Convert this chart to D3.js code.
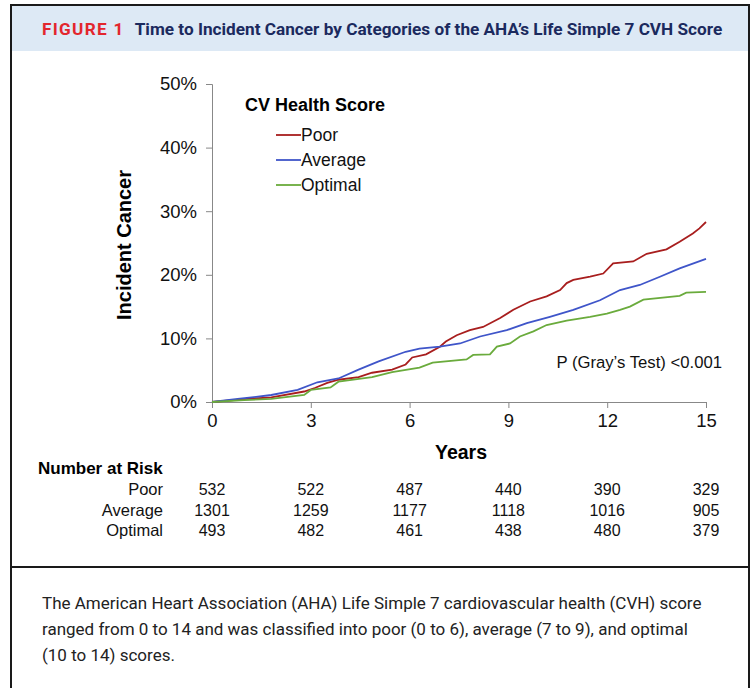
<!DOCTYPE html>
<html>
<head>
<meta charset="utf-8">
<script src="https://cdn.jsdelivr.net/npm/d3@7"></script>
<style>
  body { margin: 0; background: #fff; }
  svg { display: block; }
</style>
</head>
<body>
<svg id="chart" width="753" height="688"></svg>
<script>
// series: [years, cumulative incidence %]
var poor = [[0,0],[1.08,0.48],[1.8,0.74],[2.8,1.65],[3.12,2.2],[3.5,3],[3.84,3.5],[4.45,3.9],[4.86,4.6],
  [5.47,5.1],[5.88,5.9],[6.08,7],[6.5,7.5],[6.92,8.7],[7.1,9.5],[7.43,10.5],[7.83,11.3],[8.23,11.8],
  [8.75,13.2],[9.15,14.5],[9.66,15.8],[10.16,16.6],[10.57,17.6],[10.77,18.7],[10.97,19.2],[11.48,19.7],
  [11.88,20.2],[12.18,21.8],[12.79,22.1],[13.2,23.3],[13.8,24],[14.2,25.2],[14.6,26.5],[14.8,27.3],[15,28.3]];
var average = [[0,0],[0.78,0.48],[1.8,1.1],[2.6,1.9],[3.2,3.1],[3.84,3.7],[4.45,5.1],[5.06,6.4],[5.88,7.9],
  [6.3,8.4],[6.92,8.7],[7.53,9.2],[8.14,10.3],[8.95,11.3],[9.56,12.4],[10.26,13.4],[10.97,14.5],
  [11.78,16],[12.39,17.6],[12.99,18.4],[13.6,19.7],[14.2,21],[15,22.5]];
var optimal = [[0,0],[0.98,0.3],[1.8,0.5],[2.8,1.1],[3.0,1.9],[3.6,2.3],[3.84,3.2],[4.86,3.9],[5.47,4.7],
  [6.3,5.4],[6.7,6.2],[7.73,6.7],[7.93,7.4],[8.44,7.5],[8.65,8.7],[9.05,9.2],[9.35,10.3],[9.76,11.1],
  [10.16,12.1],[10.77,12.8],[11.48,13.4],[11.99,13.9],[12.39,14.5],[12.69,15],[13.1,16.1],[14.2,16.7],
  [14.4,17.2],[15,17.3]];

var groups = ["Poor", "Average", "Optimal"];
var colors = ["#a81e1e", "#3f55c9", "#6aab3c"];
var xTicks = [0, 3, 6, 9, 12, 15];
var yTicks = [0, 10, 20, 30, 40, 50];
var atRisk = [
  [532, 522, 487, 440, 390, 329],
  [1301, 1259, 1177, 1118, 1016, 905],
  [493, 482, 461, 438, 480, 379]
];
var captionLines = [
  "The American Heart Association (AHA) Life Simple 7 cardiovascular health (CVH) score",
  "ranged from 0 to 14 and was classified into poor (0 to 6), average (7 to 9), and optimal",
  "(10 to 14) scores."
];

var svg = d3.select("#chart");
var arial = "'Liberation Sans', Arial, sans-serif";

// frame + header band
svg.append("rect").attr("x", 11).attr("y", 5).attr("width", 738).attr("height", 46)
  .attr("fill", "#dde9f5");
svg.append("rect").attr("x", 11).attr("y", 5).attr("width", 738).attr("height", 700)
  .attr("fill", "none").attr("stroke", "#1a1a1a").attr("stroke-width", 2);
svg.append("line").attr("x1", 11).attr("x2", 749).attr("y1", 567).attr("y2", 567)
  .attr("stroke", "#1a1a1a").attr("stroke-width", 2);

var title = svg.append("text").attr("x", 42).attr("y", 35)
  .style("font-family", "Roboto, 'Noto Sans', sans-serif").style("font-size", "17.2px")
  .style("font-weight", "bold");
title.append("tspan").attr("fill", "#e3262d").style("letter-spacing", "1.3px").text("FIGURE 1");
title.append("tspan").attr("dx", 10).attr("fill", "#1b2a5e")
  .text("Time to Incident Cancer by Categories of the AHA\u2019s Life Simple 7 CVH Score");

// scales
var x = d3.scaleLinear().domain([0, 15]).range([212, 706]);
var y = d3.scaleLinear().domain([0, 50]).range([402, 84]);

var yAxis = svg.append("g").attr("transform", "translate(212,0)")
  .call(d3.axisLeft(y).tickValues(yTicks).tickSize(6).tickPadding(9).tickFormat(function(d) { return d + "%"; }));
var xAxis = svg.append("g").attr("transform", "translate(0,402)")
  .call(d3.axisBottom(x).tickValues(xTicks).tickSize(6).tickPadding(6));
[xAxis, yAxis].forEach(function(a) {
  a.select(".domain").attr("stroke", "#888");
  a.selectAll(".tick line").attr("stroke", "#888");
  a.selectAll("text").style("font-family", arial).style("font-size", "18.5px").attr("fill", "#111");
});

svg.append("text").attr("transform", "translate(131,245) rotate(-90)")
  .attr("text-anchor", "middle").style("font-family", arial).style("font-size", "20px")
  .style("font-weight", "bold").text("Incident Cancer");
svg.append("text").attr("x", 461).attr("y", 459).attr("text-anchor", "middle")
  .style("font-family", arial).style("font-size", "19.5px").style("font-weight", "bold").text("Years");

// curves
var line = d3.line().x(function(d) { return x(d[0]); }).y(function(d) { return y(d[1]); });
[poor, average, optimal].forEach(function(s, i) {
  svg.append("path").datum(s).attr("d", line).attr("fill", "none")
    .attr("stroke", colors[i]).attr("stroke-width", 1.8);
});

// legend
svg.append("text").attr("x", 245).attr("y", 111).style("font-family", arial)
  .style("font-size", "18px").style("font-weight", "bold").text("CV Health Score");
groups.forEach(function(g, i) {
  var yy = 135 + i * 25;
  svg.append("line").attr("x1", 276).attr("x2", 301).attr("y1", yy).attr("y2", yy)
    .attr("stroke", colors[i]).attr("stroke-width", 1.8);
  svg.append("text").attr("x", 301).attr("y", yy + 6).style("font-family", arial)
    .style("font-size", "17.5px").attr("fill", "#111").text(g);
});

svg.append("text").attr("x", 722).attr("y", 368).attr("text-anchor", "end")
  .style("font-family", arial).style("font-size", "16.7px").attr("fill", "#111")
  .text("P (Gray\u2019s Test) <0.001");

// number at risk table
svg.append("text").attr("x", 38).attr("y", 474).style("font-family", arial)
  .style("font-size", "17px").style("font-weight", "bold").text("Number at Risk");
groups.forEach(function(g, i) {
  var yy = 495 + i * 20.5;
  svg.append("text").attr("x", 163).attr("y", yy).attr("text-anchor", "end")
    .style("font-family", arial).style("font-size", "16.5px").attr("fill", "#111").text(g);
  svg.selectAll(null).data(atRisk[i]).enter().append("text")
    .attr("x", function(d, j) { return x(xTicks[j]); }).attr("y", yy)
    .attr("text-anchor", "middle").style("font-family", arial).style("font-size", "16px")
    .attr("fill", "#111").text(function(d) { return d; });
});

// caption
svg.selectAll(null).data(captionLines).enter().append("text")
  .attr("x", 42).attr("y", function(d, i) { return 609 + i * 26; })
  .style("font-family", "Roboto, 'Noto Sans', sans-serif").style("font-size", "17px")
  .attr("fill", "#222").text(function(d) { return d; });
</script>
</body>
</html>
